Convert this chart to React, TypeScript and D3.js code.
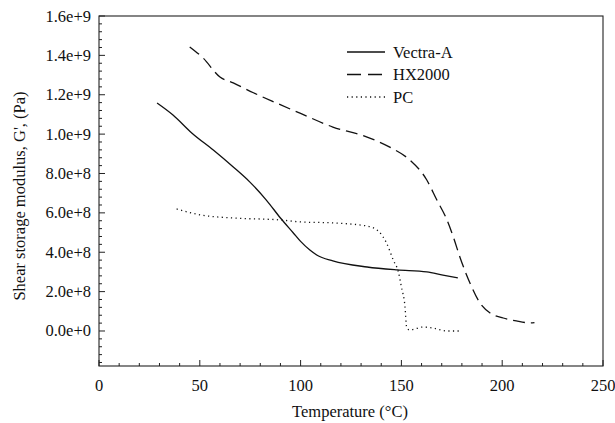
import * as d3 from "d3";

const vectraT = [28.8, 36.7, 46, 56.7, 66.6, 75, 83, 90, 96.4, 100, 104.6, 108, 116, 133, 148, 162.6, 170.6, 178];
const vectraG = [1.158e9, 1.097e9, 1.006e9, 9.19e8, 8.33e8, 7.55e8, 6.65e8, 5.74e8, 4.98e8, 4.55e8, 4.11e8, 3.86e8, 3.56e8, 3.25e8, 3.1e8, 3.0e8, 2.84e8, 2.7e8];

const hxT = [45, 51.6, 60, 66.6, 76.6, 88, 100, 116, 133, 144, 154, 162.6, 167.6, 172.6, 176, 179, 184, 189, 194, 200.5, 207, 214, 216];
const hxG = [1.443e9, 1.387e9, 1.29e9, 1.26e9, 1.21e9, 1.158e9, 1.105e9, 1.036e9, 9.85e8, 9.35e8, 8.7e8, 7.67e8, 6.65e8, 5.64e8, 4.7e8, 3.76e8, 2.44e8, 1.42e8, 9.1e7, 6.6e7, 5.1e7, 4.1e7, 4.3e7];

const pcT = [38.5, 50, 66.6, 90, 100, 116, 133, 139, 142.6, 146, 148.5, 150, 151.8, 152.6, 154, 160.7, 165.7, 172.5, 179];
const pcG = [6.2e8, 5.9e8, 5.74e8, 5.64e8, 5.54e8, 5.49e8, 5.33e8, 5.03e8, 4.47e8, 3.6e8, 3.0e8, 2.24e8, 1.22e8, 2e7, 5e6, 2e7, 1.5e7, 0, 0];

const seriesNames = ["Vectra-A", "HX2000", "PC"];
const xTicks = [0, 50, 100, 150, 200, 250];
const yTicks = [0, 2e8, 4e8, 6e8, 8e8, 1e9, 1.2e9, 1.4e9, 1.6e9];
const yTickLabels = ["0.0e+0", "2.0e+8", "4.0e+8", "6.0e+8", "8.0e+8", "1.0e+9", "1.2e+9", "1.4e+9", "1.6e+9"];

const dashes = ["none", "12,6", "1.2,3.4"];

export default function App() {
  const width = 615;
  const height = 423;
  const left = 99, right = 603, top = 16, bottom = 366;
  const font = '"Liberation Serif", "DejaVu Serif", "Times New Roman", serif';

  const x = d3.scaleLinear().domain([0, 250]).range([left, right]);
  const y = d3.scaleLinear().domain([-1.778e8, 1.6e9]).range([bottom, top]);

  const line = d3.line<[number, number]>()
    .x(d => x(d[0]))
    .y(d => y(d[1]))
    .curve(d3.curveMonotoneX);

  const series = [
    vectraT.map((t, i) => [t, vectraG[i]] as [number, number]),
    hxT.map((t, i) => [t, hxG[i]] as [number, number]),
    pcT.map((t, i) => [t, pcG[i]] as [number, number]),
  ];

  const xMinor = d3.range(0, 251, 10);
  const yMinor = d3.range(-1.6e8, 1.6e9 + 1, 4e7);
  const txt = { fontFamily: font, fontSize: 16.5, fill: "#111" };

  return (
    <svg width={width} height={height} style={{ position: "absolute", left: 0, top: 0, background: "#fff", fontFamily: font }}>
      <rect x={left} y={top} width={right - left} height={bottom - top} fill="none" stroke="#222" strokeWidth={1.1} />

      {xMinor.map((t, i) => (
        <line key={"xm" + i} x1={x(t)} x2={x(t)} y1={bottom} y2={bottom - (t % 50 === 0 ? 6 : 3)} stroke="#222" />
      ))}
      {yMinor.map((v, i) => {
        const major = Math.abs(Math.round(v / 4e7) % 5) === 0;
        return <line key={"ym" + i} x1={left} x2={left + (major ? 6 : 3)} y1={y(v)} y2={y(v)} stroke="#222" />;
      })}

      {xTicks.map(t => (
        <text key={"xt" + t} x={x(t)} y={391} textAnchor="middle" style={txt}>{t}</text>
      ))}
      {yTicks.map((v, i) => (
        <text key={"yt" + v} x={91} y={y(v) + 5.5} textAnchor="end" style={txt}>{yTickLabels[i]}</text>
      ))}

      <text x={350} y={417} textAnchor="middle" style={txt}>Temperature (°C)</text>
      <text transform={`translate(25,196) rotate(-90)`} textAnchor="middle" style={txt}>Shear storage modulus, G', (Pa)</text>

      {series.map((s, i) => (
        <path key={seriesNames[i]} d={line(s) ?? ""} fill="none" stroke="#111" strokeWidth={1.3} strokeDasharray={dashes[i]} />
      ))}

      {seriesNames.map((name, i) => (
        <g key={"lg" + name} transform={`translate(347,${52 + i * 22.5})`}>
          <line x1={0} x2={38} y1={0} y2={0} stroke="#111" strokeWidth={1.3} strokeDasharray={dashes[i] === "12,6" ? "14,7" : dashes[i]} />
          <text x={46} y={5.5} style={txt}>{name}</text>
        </g>
      ))}
    </svg>
  );
}
